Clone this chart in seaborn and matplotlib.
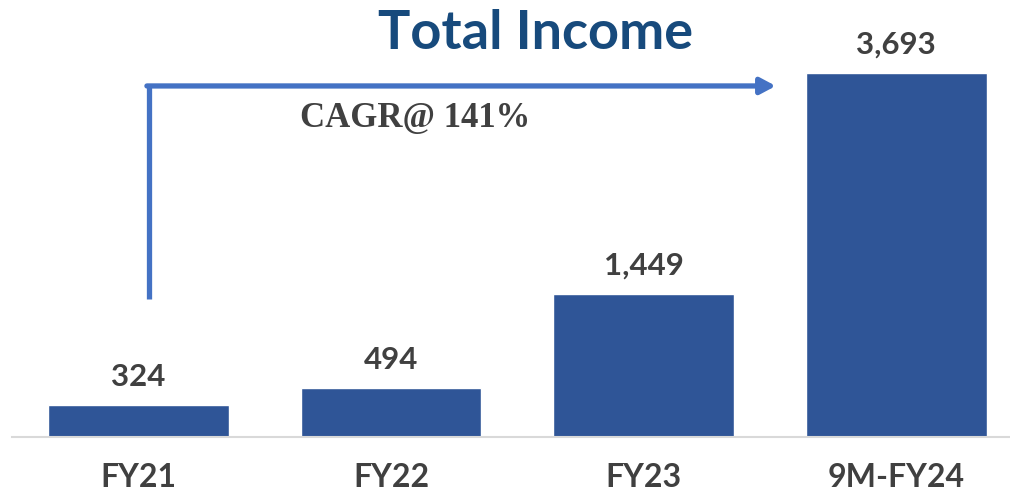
import matplotlib
matplotlib.use("Agg")
import matplotlib.pyplot as plt
import seaborn as sns
import pandas as pd

categories = ["FY21", "FY22", "FY23", "9M-FY24"]
income = [324, 494, 1449, 3693]
value_labels = ["324", "494", "1,449", "3,693"]
title = "Total Income"
cagr_text = "CAGR@ 141%"

sns.set_theme(style="white")
plt.rcParams['font.family'] = ['Lato', 'DejaVu Sans']

df = pd.DataFrame({"period": categories, "income": income})

fig = plt.figure(figsize=(10.10, 4.94), dpi=100)
ax = fig.add_axes([12/1010, 57/494, 998/1010, 437/494])

sns.barplot(data=df, x="period", y="income", color="#2F5597", saturation=1,
            width=0.716, ax=ax)

ax.set_xlim(-0.5, 3.45)
ax.set_ylim(0, 4433)
ax.set_xlabel("")
ax.set_ylabel("")
ax.set_yticks([])
for s in ["top", "right", "left"]:
    ax.spines[s].set_visible(False)
ax.spines["bottom"].set_color("#D9D9D9")
ax.spines["bottom"].set_linewidth(1.5)
ax.tick_params(axis="x", length=0, pad=19, labelsize=23, labelcolor="#404040")
for lbl in ax.get_xticklabels():
    lbl.set_fontweight("bold")

for i, (v, t) in enumerate(zip(income, value_labels)):
    ax.annotate(t, (i, v), xytext=(0, 14), textcoords="offset points",
                ha="center", va="baseline", fontsize=22.5, fontweight="bold",
                color="#404040")

# CAGR arrow
arrow_color = "#4472C4"
x0 = 0 + 0.044
x1 = 3 - 0.477
y_low, y_top = 1400, 3561
ax.plot([x0, x0], [y_low, y_top], color=arrow_color, lw=3.8,
        solid_capstyle="butt", solid_joinstyle="miter")
ax.annotate("", xy=(x1, y_top), xytext=(x0 - 0.01, y_top),
            arrowprops=dict(arrowstyle="-|>,head_length=0.75,head_width=0.4",
                            color=arrow_color, lw=3.8, shrinkA=0, shrinkB=0))
ax.text(1.096, 3145, cagr_text, ha="center", va="baseline", fontsize=25,
        fontweight="bold", color="#404040", family=["Liberation Serif", "DejaVu Serif"])

fig.text(536/1010, 1 - 49/494, title, ha="center", va="baseline", fontsize=39,
         fontweight="bold", color="#174A7C")

fig.savefig("out.png", dpi=100)
